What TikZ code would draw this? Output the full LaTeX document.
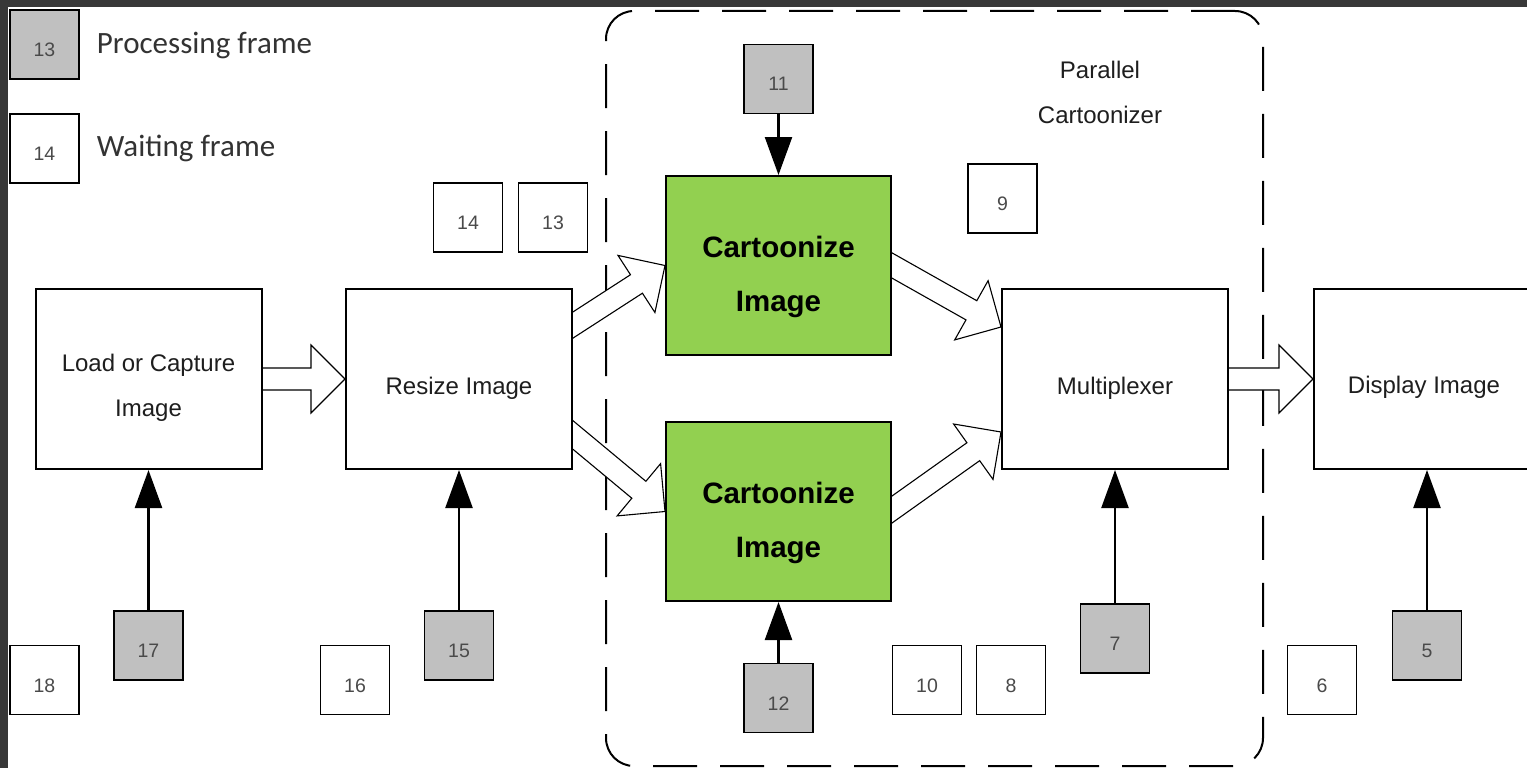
\documentclass[tikz,border=0pt]{standalone}
\usepackage{fontspec}
\setmainfont{Liberation Sans}
\newfontfamily\legendfont{Carlito}
\usetikzlibrary{calc,arrows.meta}
\pgfdeclarelayer{back}
\pgfdeclarelayer{mid}
\pgfsetlayers{back,mid,main}
\definecolor{procgray}{HTML}{C0C0C0}
\definecolor{cartgreen}{HTML}{92D050}
\definecolor{darkframe}{HTML}{383838}
\definecolor{numtext}{HTML}{4A4A4A}
\definecolor{maintext}{HTML}{1E1E1E}
\definecolor{legtext}{HTML}{333333}

\newcommand\hollowarrow[2]{%
  \draw[hollow] let \p1=($(#2)-(#1)$), \n1={atan2(\y1,\x1)} in
    ($(#1)+({\n1+180}:12pt)+({\n1+90}:11pt)$) --
    ($(#2)+({\n1+180}:34pt)+({\n1+90}:11pt)$) --
    ($(#2)+({\n1+180}:34pt)+({\n1+90}:34pt)$) --
    (#2) --
    ($(#2)+({\n1+180}:34pt)+({\n1-90}:34pt)$) --
    ($(#2)+({\n1+180}:34pt)+({\n1-90}:11pt)$) --
    ($(#1)+({\n1+180}:12pt)+({\n1-90}:11pt)$) -- cycle;}

\begin{document}
\begin{tikzpicture}[x=1pt,y=-1pt,
  bigbox/.style={draw=black, line width=2pt, fill=white, minimum width=226pt, minimum height=180pt, inner sep=0pt},
  cartbox/.style={bigbox, fill=cartgreen, minimum width=225pt, minimum height=179pt},
  lbl/.style={anchor=base, inner sep=0pt, text=maintext, font=\fontsize{24}{28}\selectfont},
  cartlbl/.style={anchor=base, inner sep=0pt, text=black, font=\fontsize{29.5}{34}\selectfont\bfseries},
  leglbl/.style={anchor=base west, inner sep=0pt, text=legtext, font=\legendfont\fontsize{31}{36}\selectfont},
  numbox/.style={draw=black, line width=1.8pt, minimum width=69pt, minimum height=69pt, inner sep=0pt, text=numtext, font=\fontsize{19.5}{24}\selectfont, text height=24pt, text depth=0pt},
  procbox/.style={numbox, fill=procgray},
  waitbox/.style={numbox, fill=white},
  feed/.style={line width=2.4pt, -{Triangle[width=27pt,length=38pt]}},
  hollow/.style={draw=black, fill=white, line width=1.1pt, line join=miter},
  container/.style={draw=black, line width=2pt, dash pattern=on 44pt off 23pt, rounded corners=28pt, minimum width=657pt, minimum height=755pt, inner sep=0pt}
]
\useasboundingbox (0,0) rectangle (1527,768);

% legend
\node[procbox] (lg13) at (44.5,44.5) {13};
\node[leglbl] (lgp) at (96.7,53.3) {Processing frame};
\node[waitbox] (lg14) at (44.5,148.5) {14};
\node[leglbl] (lgw) at (96.7,156.7) {Waiting frame};

% main boxes
\node[bigbox] (load) at (148.5,379) {};
\node[bigbox] (rs) at (459,379) {};
\node[cartbox] (c1) at (778.5,265.5) {};
\node[cartbox] (c2) at (778.5,511.5) {};
\node[bigbox] (mux) at (1115,379) {};
\node[bigbox] (disp) at (1427,379) {};

% labels
\node[lbl] (loadT1) at (148.5,371.7) {Load or Capture};
\node[lbl] (loadT2) at (148.5,416.7) {Image};
\node[lbl] (rsT) at (459,394) {Resize Image};
\node[cartlbl] (c1T1) at (778.5,257.3) {Cartoonize};
\node[cartlbl] (c1T2) at (778.5,311.7) {Image};
\node[cartlbl] (c2T1) at (778.5,503.3) {Cartoonize};
\node[cartlbl] (c2T2) at (778.5,557.7) {Image};
\node[lbl] (muxT) at (1115,394) {Multiplexer};
\node[lbl] (dispT) at (1424,393.5) {Display Image};
\node[lbl] (parT1) at (1100,78.3) {Parallel};
\node[lbl] (parT2) at (1100,123.3) {Cartoonizer};

% frame boxes
\node[procbox] (b11) at (778.5,79) {11};
\node[procbox] (b12) at (778.5,698) {12};
\node[waitbox] (b9) at (1002.5,198.5) {9};
\node[waitbox] (b14) at (468,217.5) {14};
\node[waitbox] (b13) at (553,217.5) {13};
\node[waitbox] (b10) at (927,680) {10};
\node[waitbox] (b8) at (1011,680) {8};
\node[procbox] (b7) at (1115,638.5) {7};
\node[waitbox] (b6) at (1322,680) {6};
\node[procbox] (b5) at (1427,645.5) {5};
\node[procbox] (b17) at (148.5,645.5) {17};
\node[waitbox] (b18) at (44.5,680) {18};
\node[waitbox] (b16) at (355,680) {16};
\node[procbox] (b15) at (459,645.5) {15};

% feed arrows
\draw[feed] (b17.north) -- (load.south);
\draw[feed] (b15.north) -- (rs.south);
\draw[feed] (b11.south) -- (c1.north);
\draw[feed] (b12.north) -- (c2.south);
\draw[feed] (b7.north) -- (mux.south);
\draw[feed] (b5.north) -- (disp.south);

% hollow arrows
\coordinate (h1s) at (load.east);
\coordinate (h1t) at (rs.west);
\coordinate (h2s) at ([yshift=54pt]rs.east);
\coordinate (h2t) at (c1.west);
\coordinate (h3s) at ([yshift=-56pt]rs.east);
\coordinate (h3t) at (c2.west);
\coordinate (h4s) at (c1.east);
\coordinate (h4t) at ([yshift=52pt]mux.west);
\coordinate (h5s) at ([yshift=2pt]c2.east);
\coordinate (h5t) at ([yshift=-53pt]mux.west);
\coordinate (h6s) at (mux.east);
\coordinate (h6t) at (disp.west);
\begin{pgfonlayer}{mid}
\hollowarrow{h1s}{h1t}
\hollowarrow{h2s}{h2t}
\hollowarrow{h3s}{h3t}
\hollowarrow{h4s}{h4t}
\hollowarrow{h5s}{h5t}
\hollowarrow{h6s}{h6t}
\end{pgfonlayer}

% background and container
\begin{pgfonlayer}{back}
\fill[darkframe] (0,0) rectangle (1527,768);
\fill[white] (8,7) rectangle (1527,768);
\node[container] (frame) at (934.5,388.5) {};
\end{pgfonlayer}
\end{tikzpicture}
\end{document}
